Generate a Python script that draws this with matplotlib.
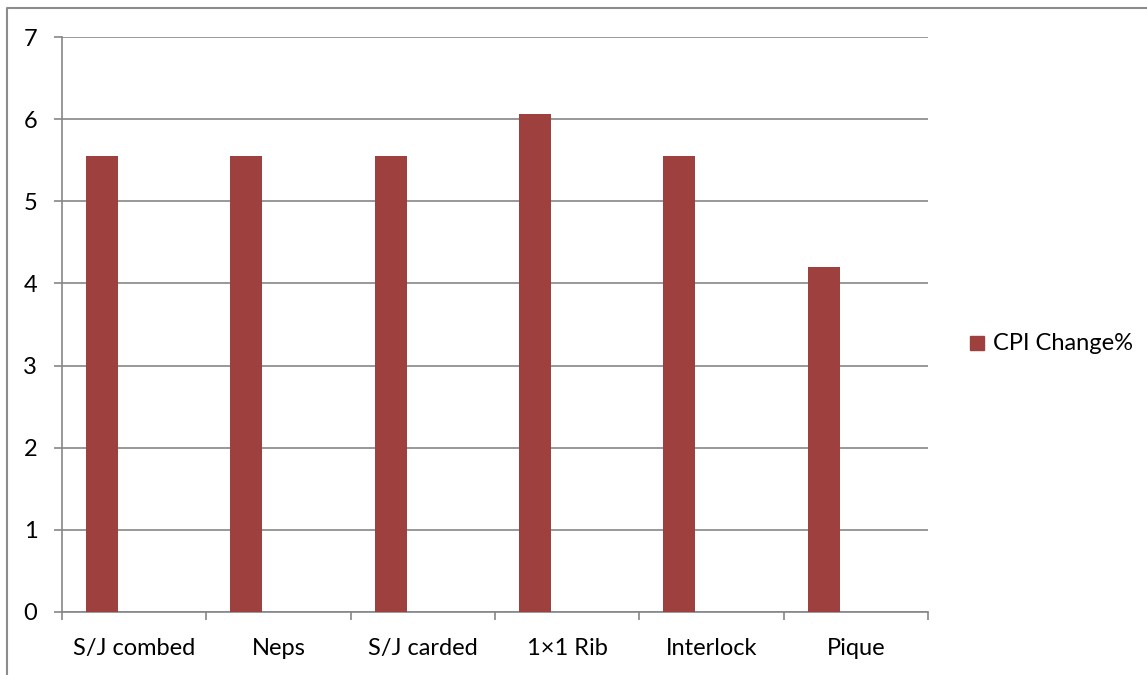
import numpy as np
import matplotlib.pyplot as plt
from matplotlib.lines import Line2D
from matplotlib.patches import Rectangle

categories = ['S/J combed', 'Neps', 'S/J carded', '1×1 Rib', 'Interlock', 'Pique']
cpi_change = [5.55, 5.55, 5.55, 6.06, 5.55, 4.2]
y_ticks = [0, 1, 2, 3, 4, 5, 6, 7]

bar_color = '#9E413E'
axis_gray = '#868686'
W, H = 1147, 675
fs = 17

plt.rcParams['font.family'] = ['Lato', 'DejaVu Sans']

fig = plt.figure(figsize=(W / 100, H / 100), dpi=100)
ax = fig.add_axes([62 / W, 1 - 612 / H, (928 - 62) / W, (612 - 37) / H])

# three-slot category layout with 150% gap; only the first slot is filled
x = np.arange(len(categories))
w = 1 / 4.5
ax.bar(x - 0.5 + 0.75 * w, cpi_change, width=w, align='edge',
       color=bar_color, edgecolor='none', zorder=3)

ax.set_xlim(-0.5, len(categories) - 0.5)
ax.set_ylim(0, 7)
ax.set_yticks(y_ticks)
ax.set_xticks(x)
ax.set_xticklabels(categories, fontsize=fs)
ax.set_xticks(np.arange(len(categories) + 1) - 0.5, minor=True)
ax.tick_params(axis='x', which='major', length=0, pad=19)
ax.tick_params(axis='x', which='minor', length=5.8, width=1.2, color=axis_gray)
ax.tick_params(axis='y', length=5.8, width=1.2, color=axis_gray, labelsize=fs, pad=12)
ax.grid(axis='y', color=axis_gray, linewidth=1.2, zorder=0)

for side in ['top', 'right']:
    ax.spines[side].set_visible(False)
for side in ['left', 'bottom']:
    ax.spines[side].set_color(axis_gray)
    ax.spines[side].set_linewidth(1.2)

# legend drawn by hand at the right of the plot area
fig.patches.append(Rectangle((970 / W, 1 - 350 / H), 14 / W, 14 / H,
                             transform=fig.transFigure, color=bar_color))
fig.text(993 / W, 1 - 343 / H, 'CPI Change%', fontsize=fs, va='center', ha='left')

# outer chart frame
fig.lines.append(Line2D([7.5 / W, 7.5 / W, 1.0], [0.0, 1 - 7.5 / H, 1 - 7.5 / H],
                        transform=fig.transFigure, color='#8C8C8C', linewidth=1.5))

fig.savefig('out.png', dpi=100)
